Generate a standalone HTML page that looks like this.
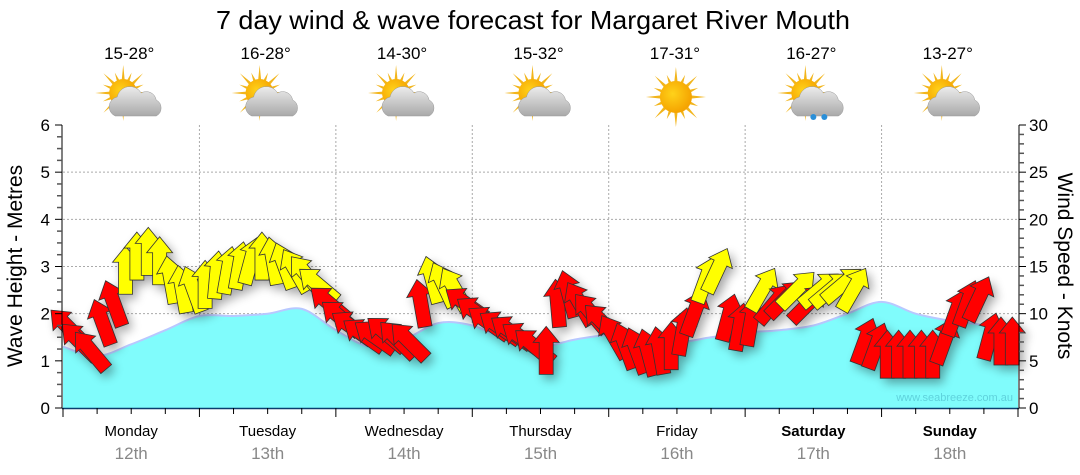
<!DOCTYPE html>
<html><head><meta charset="utf-8">
<style>
html,body{margin:0;padding:0;background:#fff;}
svg{display:block;font-family:"Liberation Sans",sans-serif;}
</style></head>
<body>
<svg id="chart" width="1080" height="475" viewBox="0 0 1080 475" xmlns="http://www.w3.org/2000/svg">
<defs>
  <radialGradient id="sunG" cx="0.4" cy="0.4" r="0.6"><stop offset="0" stop-color="#ffd21a"/><stop offset="1" stop-color="#f5a300"/></radialGradient>
  <linearGradient id="cloudG" x1="0" y1="0" x2="0" y2="1"><stop offset="0" stop-color="#ececec"/><stop offset="1" stop-color="#a9a9a9"/></linearGradient>
  <filter id="shadow" x="-50%" y="-50%" width="200%" height="200%"><feGaussianBlur stdDeviation="5"/></filter>
</defs>
<text x="533" y="29" text-anchor="middle" font-size="26" textLength="634" lengthAdjust="spacingAndGlyphs">7 day wind &amp; wave forecast for Margaret River Mouth</text>
<g id="grid"></g>
<g id="waves"></g>
<g id="shadows" filter="url(#shadow)" opacity="0.35"></g>
<g id="arrows"></g>
<text x="1013" y="401" text-anchor="end" font-size="11" fill="#5fd2dc">www.seabreeze.com.au</text>
<g id="axes"></g>
<g id="days"></g>
<g id="weather"></g>
<text transform="translate(22,266) rotate(-90)" text-anchor="middle" font-size="21">Wave Height - Metres</text>
<text transform="translate(1058,266) rotate(90)" text-anchor="middle" font-size="21">Wind Speed - Knots</text>
</svg>
<script>
const dayNames=["Monday","Tuesday","Wednesday","Thursday","Friday","Saturday","Sunday"];
const dayDates=["12th","13th","14th","15th","16th","17th","18th"];
const boldDays=[false,false,false,false,false,true,true];
const temps=["15-28°","16-28°","14-30°","15-32°","17-31°","16-27°","13-27°"];
const icons=["partly","partly","partly","partly","sunny","shower","partly"];
const leftTicks=[0,1,2,3,4,5,6];
const rightTicks=[0,5,10,15,20,25,30];
// wave height every 6 hours (metres)
const waveHeights=[1.3,1.1,1.35,1.65,1.95,1.95,2.0,2.1,1.65,1.3,1.45,1.8,1.75,1.45,1.3,1.45,1.55,1.55,1.4,1.5,1.6,1.65,1.75,2.0,2.25,2.0,1.85,1.75,1.5];
// wind every 2 hours (knots)
const windSpeeds=[8.5,7,6,9,11,14.5,16,16.5,15.5,13.5,12.5,12.5,
 13,14,14.5,15,15.5,16,15.5,15,14.5,14,13,11,
 9.5,8.5,7.7,7.5,7.8,7.2,7,11,13.5,13,12.5,11,
 10,9,8.5,8,7.3,6.5,6,11,12,11,10,9,
 7.5,6.5,6,5.8,6,6.5,8,10,13.5,14.5,9.5,8.5,
 9,12.5,11,11.5,12.5,11,12.5,12.5,13,12.5,7,6.5,
 5.6,5.6,5.6,5.6,5.6,7,10,11,11.5,7.5,7,7];
// arrow heading in degrees (0 = pointing up)
const windDirs=[-45,-45,-40,-20,-20,0,0,0,0,-10,-10,-20,
 0,5,10,10,15,0,-10,-20,-30,-40,-50,-50,
 -50,-55,-55,-55,-50,-45,-45,-10,-15,-25,-30,-55,
 -55,-55,-55,-55,-55,-50,0,-5,-15,-30,-40,-45,
 -30,-20,-20,-15,-10,0,10,20,20,25,15,10,
 10,30,40,45,45,45,50,50,50,30,20,20,
 0,0,0,0,0,20,20,20,25,15,0,0];

const NS="http://www.w3.org/2000/svg";
const X0=63,X1=1018,Y0=408,Y1=125;
const dayW=(X1-X0)/7;
const yM=m=>Y0-(m/6)*(Y0-Y1);
const yK=k=>Y0-(k/30)*(Y0-Y1);
const xH=h=>X0+h/24*dayW;
function mk(tag,attrs,parent){const e=document.createElementNS(NS,tag);for(const k in attrs)e.setAttribute(k,attrs[k]);parent.appendChild(e);return e;}

const grid=document.getElementById('grid');
leftTicks.forEach(t=>{if(t>0&&t<6){
  const l=mk('line',{x1:X0,x2:X1,y1:yM(t),y2:yM(t),stroke:'#aaa','stroke-dasharray':'2,2'},grid);
  
  
}});
for(let d=1;d<7;d++){
  const l=mk('line',{x1:X0+d*dayW,x2:X0+d*dayW,y1:Y1,y2:Y0,stroke:'#aaa','stroke-dasharray':'2,2'},grid);
  
  
}

// waves (smoothed via catmull-rom)
const wg=document.getElementById('waves');
let pts=waveHeights.map((h,i)=>[xH(i*6),yM(h)]);
function smooth(p){let s='M'+p[0][0].toFixed(1)+','+p[0][1].toFixed(1);
  for(let i=0;i<p.length-1;i++){const a=p[Math.max(i-1,0)],b=p[i],c=p[i+1],d=p[Math.min(i+2,p.length-1)];
    const c1=[b[0]+(c[0]-a[0])/6,b[1]+(c[1]-a[1])/6],c2=[c[0]-(d[0]-b[0])/6,c[1]-(d[1]-b[1])/6];
    s+=` C${c1[0].toFixed(1)},${c1[1].toFixed(1)} ${c2[0].toFixed(1)},${c2[1].toFixed(1)} ${c[0].toFixed(1)},${c[1].toFixed(1)}`;}
  return s;}
const sp=smooth(pts);
const wa=mk('path',{d:sp+` L${X1},${Y0} L${X0},${Y0} Z`,fill:'#80fcfc'},wg);


const wl=mk('path',{d:sp,fill:'none',stroke:'#b8c8ff','stroke-width':2},wg);



// arrows
const ag=document.getElementById('arrows'),sg=document.getElementById('shadows');
const shape="0,-25 13,-9 7,-9 7,23 -7,23 -7,-9 -13,-9";
windSpeeds.forEach((s,i)=>{
  const x=xH(i*2+1),y=yK(s);
  const sh=mk('polygon',{points:shape,fill:'#000',transform:`translate(${x+4},${y+5}) rotate(${windDirs[i]})`},sg);
  
  
});
windSpeeds.forEach((s,i)=>{
  const x=xH(i*2+1),y=yK(s);
  const a=mk('polygon',{points:shape,fill:s>=12.5?'#ffff00':'#ff0000',stroke:'#333','stroke-width':0.8,transform:`translate(${x},${y}) rotate(${windDirs[i]})`},ag);
  
  
});

// axes
const ax=document.getElementById('axes');
const la=mk('line',{x1:X0-1,x2:X0-1,y1:Y1,y2:Y0,stroke:'#000'},ax);


const ra=mk('line',{x1:X1+1,x2:X1+1,y1:Y1,y2:Y0,stroke:'#000'},ax);


const ba=mk('line',{x1:X0-1,x2:X1+1,y1:Y0+0.5,y2:Y0+0.5,stroke:'#0b3d6e','stroke-width':1.5},ax);


for(let i=0;i<=24;i++){const y=yM(i/4),len=i%4==0?7:5;
  mk('line',{x1:X0-1-len,x2:X0-1,y1:y,y2:y,stroke:i%4==0?'#000':'#555','stroke-width':i%4==0?1:1.5},ax);}
for(let i=0;i<=30;i++){const y=yK(i),len=i%5==0?7:5;
  mk('line',{x1:X1+1,x2:X1+1+len,y1:y,y2:y,stroke:i%5==0?'#000':'#555','stroke-width':i%5==0?1:1.5},ax);}
leftTicks.forEach(t=>{const e=mk('text',{x:50,y:yM(t)+6,'text-anchor':'end','font-size':17},ax);e.textContent=t;
  
  });
rightTicks.forEach(t=>{const e=mk('text',{x:1029,y:yK(t)+6,'font-size':17},ax);e.textContent=t;
  
  });
for(let i=0;i<=28;i++){const x=xH(i*6);
  mk('line',{x1:x,x2:x,y1:Y0,y2:Y0+(i%4==0?9:6),stroke:'#000'},ax);}

// day labels
const dg=document.getElementById('days');
dayNames.forEach((n,i)=>{const cx=X0+(i+0.5)*dayW;
  const t=mk('text',{x:cx,y:436,'text-anchor':'middle','font-size':15,'font-weight':boldDays[i]?'bold':'normal'},dg);t.textContent=n;
  
  
  const t2=mk('text',{x:cx,y:459,'text-anchor':'middle','font-size':17,fill:'#888'},dg);t2.textContent=dayDates[i];
  
  
});

// weather
const wr=document.getElementById('weather');
function sun(g,cx,cy,r){
  for(let k=0;k<16;k++){const a=k*Math.PI/8,L=k%2?r+8:r+14;
    const p1=[cx+Math.cos(a-0.15)*r*0.8,cy+Math.sin(a-0.15)*r*0.8],p2=[cx+Math.cos(a+0.15)*r*0.8,cy+Math.sin(a+0.15)*r*0.8],p3=[cx+Math.cos(a)*L,cy+Math.sin(a)*L];
    mk('polygon',{points:[p1,p2,p3].map(p=>p.join(',')).join(' '),fill:'#f2b51c'},g);}
  mk('circle',{cx:cx,cy:cy,r:r,fill:'url(#sunG)'},g);
}
function cloud(g,cx,cy){
  mk('path',{d:`M${cx-23},${cy+15} a10,10 0 0 1 2,-19 a13,13 0 0 1 24,-4 a10,10 0 0 1 15,7 a9,9 0 0 1 0,16 Z`,fill:'url(#cloudG)',stroke:'#999','stroke-width':0.5},g);
}
temps.forEach((t,i)=>{const cx=X0+(i+0.5)*dayW-2;
  const tt=mk('text',{x:cx,y:59,'text-anchor':'middle','font-size':17},wr);tt.textContent=t;
  
  
  const g=mk('g',{},wr);
  
  
  if(icons[i]==='sunny'){sun(g,cx+1,97,16);}
  else{sun(g,cx-6,93,14);cloud(g,cx+9,101);
    if(icons[i]==='shower'){mk('circle',{cx:cx+2,cy:117,r:3,fill:'#2a8fd8'},g);mk('circle',{cx:cx+13,cy:117,r:3,fill:'#2a8fd8'},g);}}
});
</script>
</body></html>
